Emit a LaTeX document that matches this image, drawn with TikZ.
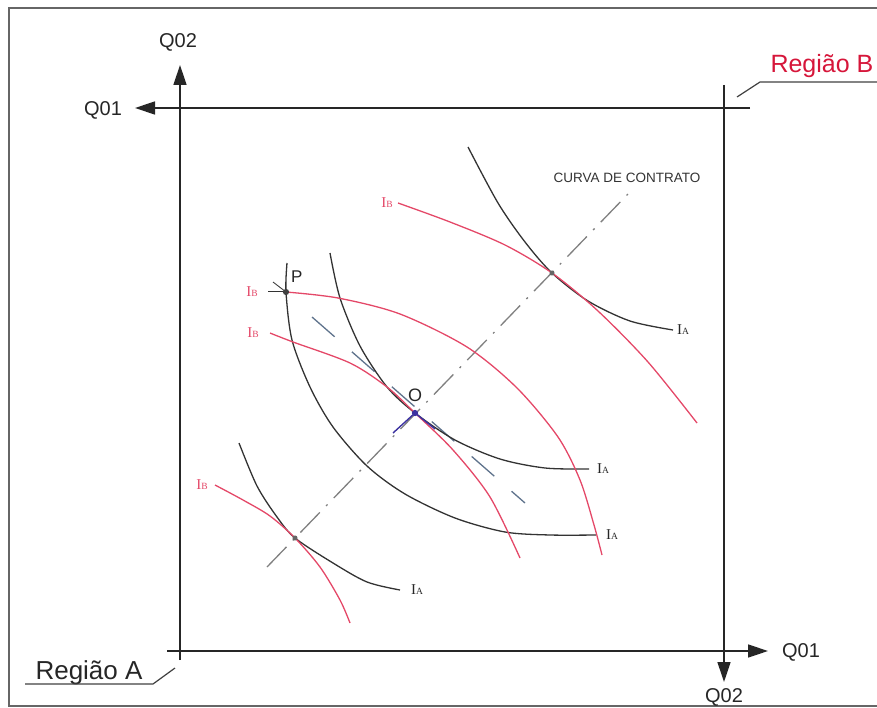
\documentclass[tikz,border=0pt]{standalone}
\usepackage{fontspec}
\setmainfont{Liberation Sans}
\newfontfamily\labfont{Liberation Serif}
\usetikzlibrary{arrows.meta,positioning}
\definecolor{curvered}{RGB}{228,72,104}
\definecolor{regred}{RGB}{214,22,58}
\definecolor{tangblue}{RGB}{95,115,140}
\definecolor{dotblue}{RGB}{60,50,160}
\newcommand{\indif}[1]{{\labfont\fontsize{15}{15}\selectfont I\fontsize{9.5}{9.5}\selectfont#1}}
\tikzset{
  axis/.style       = {-{Triangle[length=20pt,width=13pt]}, line width=1.4pt, black!85},
  outerframe/.style = {line width=2.4pt, black!60},
  leader/.style     = {line width=1.2pt, black!75},
  curveA/.style     = {line width=1.3pt, black!80},
  curveB/.style     = {line width=1.3pt, curvered},
  contract/.style   = {line width=1.3pt, black!50, dash pattern=on 28pt off 9pt on 2pt off 9pt},
  tangent/.style    = {line width=1.3pt, tangblue, dash pattern=on 30pt off 23pt},
  dot/.style        = {circle, fill=black!75, inner sep=2.2pt},
  qlab/.style       = {font=\fontsize{20}{20}\selectfont, black!85},
  reglab/.style     = {font=\fontsize{25}{25}\selectfont, anchor=base west},
  lblA/.style       = {black!85, inner sep=0pt},
  lblB/.style       = {curvered, inner sep=0pt},
}

\begin{document}
\begin{tikzpicture}[x=1pt,y=-1pt]
  \useasboundingbox (0,0) rectangle (877,708);
  \clip (0,0) rectangle (877,708);
  \draw[outerframe] (9,8) rectangle (900,706);

  % axes of both regions
  \coordinate (aFoot)  at (180,660);
  \coordinate (aUp)    at (180,65);
  \coordinate (aTail)  at (167,651);
  \coordinate (aRight) at (768,651);
  \coordinate (bTop)   at (724,85);
  \coordinate (bDown)  at (724,682);
  \coordinate (bTail)  at (750,108);
  \coordinate (bLeft)  at (135,108);
  \draw[axis] (aFoot) -- (aUp);
  \draw[axis] (aTail) -- (aRight);
  \draw[axis] (bTop) -- (bDown);
  \draw[axis] (bTail) -- (bLeft);
  \node[qlab] (q2a) at (178,42)  {Q02};
  \node[qlab] (q1b) at (103,110) {Q01};
  \node[qlab] (q1a) at (801,652) {Q01};
  \node[qlab] (q2b) at (724,697) {Q02};

  % region labels
  \node[reglab, regred] (regB) at (767,73) {Região B};
  \coordinate (regBend) at (737,97);
  \coordinate (regBknee) at (760,82);
  \draw[leader] (regBend) -- (regBknee) -- (regBknee -| 890,0);
  \node[reglab, black!85, font=\fontsize{26}{26}\selectfont] (regA) at (32,679) {Região A};
  \coordinate (regAend) at (175,668);
  \coordinate (regAknee) at (153,684);
  \draw[leader] (regAend) -- (regAknee) -- (regAknee -| 25,0);

  % tangency points
  \coordinate (P)  at (286,292);
  \coordinate (O)  at (415,413);
  \coordinate (T1) at (552,273);
  \coordinate (T4) at (295,538);

  % contract curve and tangent
  \coordinate (cc0) at (267,567);
  \coordinate (cc1) at (628,194);
  \draw[contract] (cc0) -- (cc1);
  \node[font=\fontsize{13.5}{13.5}\selectfont, black!80] (ccl) at (627,178) {CURVA DE CONTRATO};
  \coordinate (tg0) at (312,317);
  \coordinate (tg1) at (525,503);
  \draw[tangent] (tg0) -- (tg1);

  % indifference curves A
  \draw[curveA] plot[smooth] coordinates {(468,147) (498,203) (525,242) (T1) (588,301) (630,321) (673,330)};
  \coordinate (a1e) at (673,330);
  \draw[curveA] plot[smooth] coordinates {(287,263) (P) (292,340) (310,387) (333,427) (367,466) (405,494) (455,518) (505,532) (550,535) (596,535)};
  \coordinate (a2e) at (596,535);
  \draw[curveA] plot[smooth] coordinates {(330,253) (340,298) (360,346) (387,387) (O) (455,440) (500,459) (545,468) (589,469)};
  \coordinate (a3e) at (589,469);
  \draw[curveA] plot[smooth] coordinates {(239,443) (257,486) (277,517) (T4) (333,563) (367,582) (400,590)};
  \coordinate (a4e) at (400,590);

  % indifference curves B
  \coordinate (b1s) at (398,203);
  \draw[curveB] plot[smooth] coordinates {(b1s) (450,222) (505,245) (T1) (598,311) (648,362) (697,423)};
  \coordinate (b2s) at (268,292);
  \draw[curveB] plot[smooth] coordinates {(P) (338,298) (400,314) (467,347) (517,388) (558,437) (580,480) (594,525) (602,555)};
  \coordinate (b3s) at (270,333);
  \draw[curveB] plot[smooth] coordinates {(b3s) (293,342) (350,363) (387,387) (O) (453,450) (490,497) (520,558)};
  \coordinate (b4s) at (215,485);
  \draw[curveB] plot[smooth] coordinates {(b4s) (243,500) (270,516) (T4) (320,567) (340,600) (350,623)};

  % marks at P and O
  \coordinate (Ptick) at (273,282);
  \draw[line width=1pt, black!80] (b2s) -- (P);
  \draw[line width=0.9pt, black!75] (Ptick) -- (P);
  \coordinate (Oc) at (393,433);
  \coordinate (Ot) at (435,429);
  \draw[line width=1.4pt, dotblue] (Oc) -- (O) -- (Ot);

  \node[dot] at (P) {};
  \node[dot, fill=dotblue] at (O) {};
  \node[dot, fill=black!60, inner sep=1.8pt] at (T1) {};
  \node[dot, fill=black!60, inner sep=1.8pt] at (T4) {};
  \node[font=\fontsize{17}{17}\selectfont, black!85, inner sep=0pt, above right=9pt and 5pt of P] (plbl) {P};
  \node[font=\fontsize{18}{18}\selectfont, black!85, inner sep=0pt, above=11pt of O] (olbl) {O};

  % curve labels
  \node[lblA, right=4pt of a1e]  (ia1) {\indif{A}};
  \node[lblA, right=10pt of a2e] (ia2) {\indif{A}};
  \node[lblA, right=8pt of a3e]  (ia3) {\indif{A}};
  \node[lblA, right=11pt of a4e] (ia4) {\indif{A}};
  \node[lblB, left=5pt of b1s]  (ib1) {\indif{B}};
  \node[lblB, left=10pt of b2s] (ib2) {\indif{B}};
  \node[lblB, left=11pt of b3s] (ib3) {\indif{B}};
  \node[lblB, left=7pt of b4s]  (ib4) {\indif{B}};
\end{tikzpicture}
\end{document}
